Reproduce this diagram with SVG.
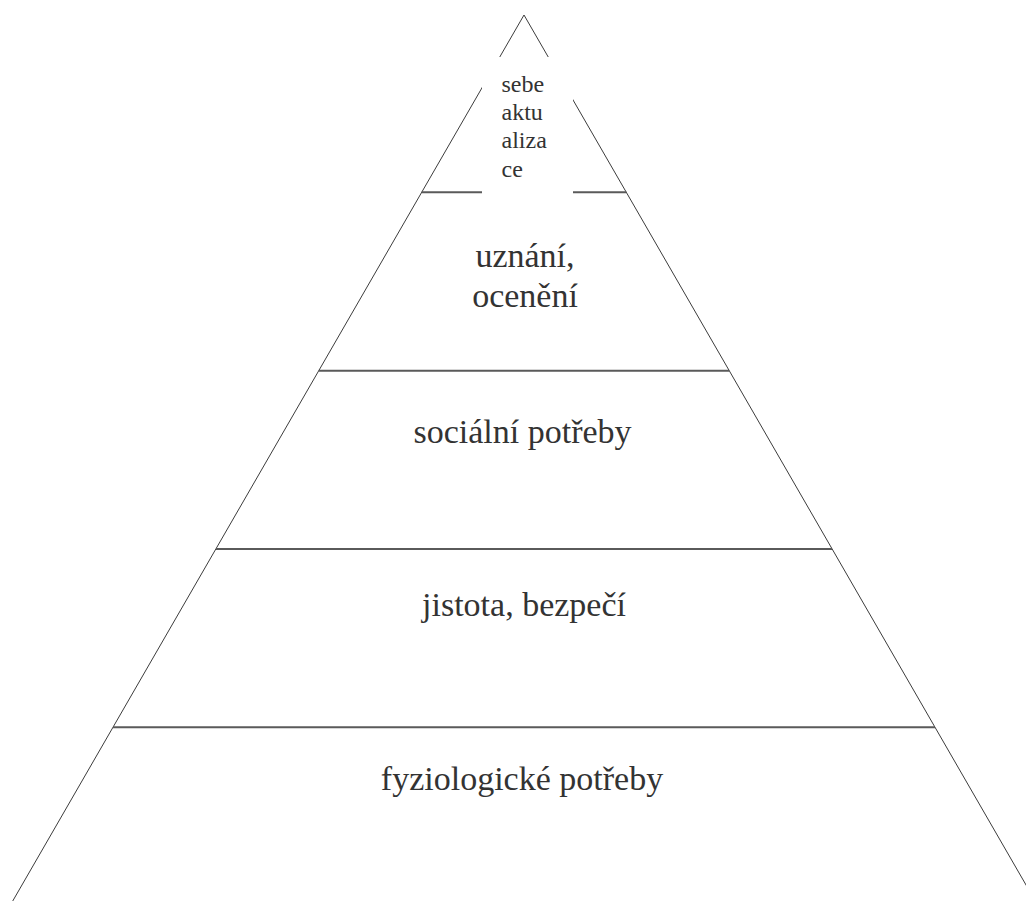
<svg xmlns="http://www.w3.org/2000/svg" width="1026" height="901" viewBox="0 0 1026 901">
<style>
.side{stroke:#3c3c3c;stroke-width:1;fill:none}
.tier{stroke:#5a5a5a;stroke-width:2;fill:none}
.lbl{fill:#333;font-size:34px;text-anchor:middle}
.sm{fill:#333;font-size:24px}
</style>
<rect width="1026" height="901" fill="#fff"/>
<g id="connectors">
<line class="side" x1="524" y1="15" x2="11" y2="904"/>
<line class="side" x1="524" y1="15" x2="1037" y2="904"/>
<line class="tier" x1="421.7" y1="192.3" x2="626.3" y2="192.3"/>
<line class="tier" x1="318.8" y1="370.7" x2="729.2" y2="370.7"/>
<line class="tier" x1="216" y1="549" x2="832" y2="549"/>
<line class="tier" x1="113" y1="727.3" x2="935" y2="727.3"/>
</g>
<g font-family="Liberation Serif, Times New Roman, serif">
<g id="n-sebeaktualizace">
<rect x="482" y="57" width="91" height="138" fill="#fff"/>
<text class="sm" x="501.5" y="91.7">sebe</text>
<text class="sm" x="501.5" y="120">aktu</text>
<text class="sm" x="501.5" y="148.3">aliza</text>
<text class="sm" x="501.5" y="176.7">ce</text>
</g>
<g id="n-uznani">
<text class="lbl" x="525" y="267" font-size="33">uznání,</text>
<text class="lbl" x="525" y="307" font-size="33">ocenění</text>
</g>
<g id="n-socialni">
<text class="lbl" x="522.5" y="442.7">sociální potřeby</text>
</g>
<g id="n-jistota">
<text class="lbl" x="524" y="616">jistota, bezpečí</text>
</g>
<g id="n-fyziologicke">
<text class="lbl" x="522" y="790">fyziologické potřeby</text>
</g>
</g>
</svg>
